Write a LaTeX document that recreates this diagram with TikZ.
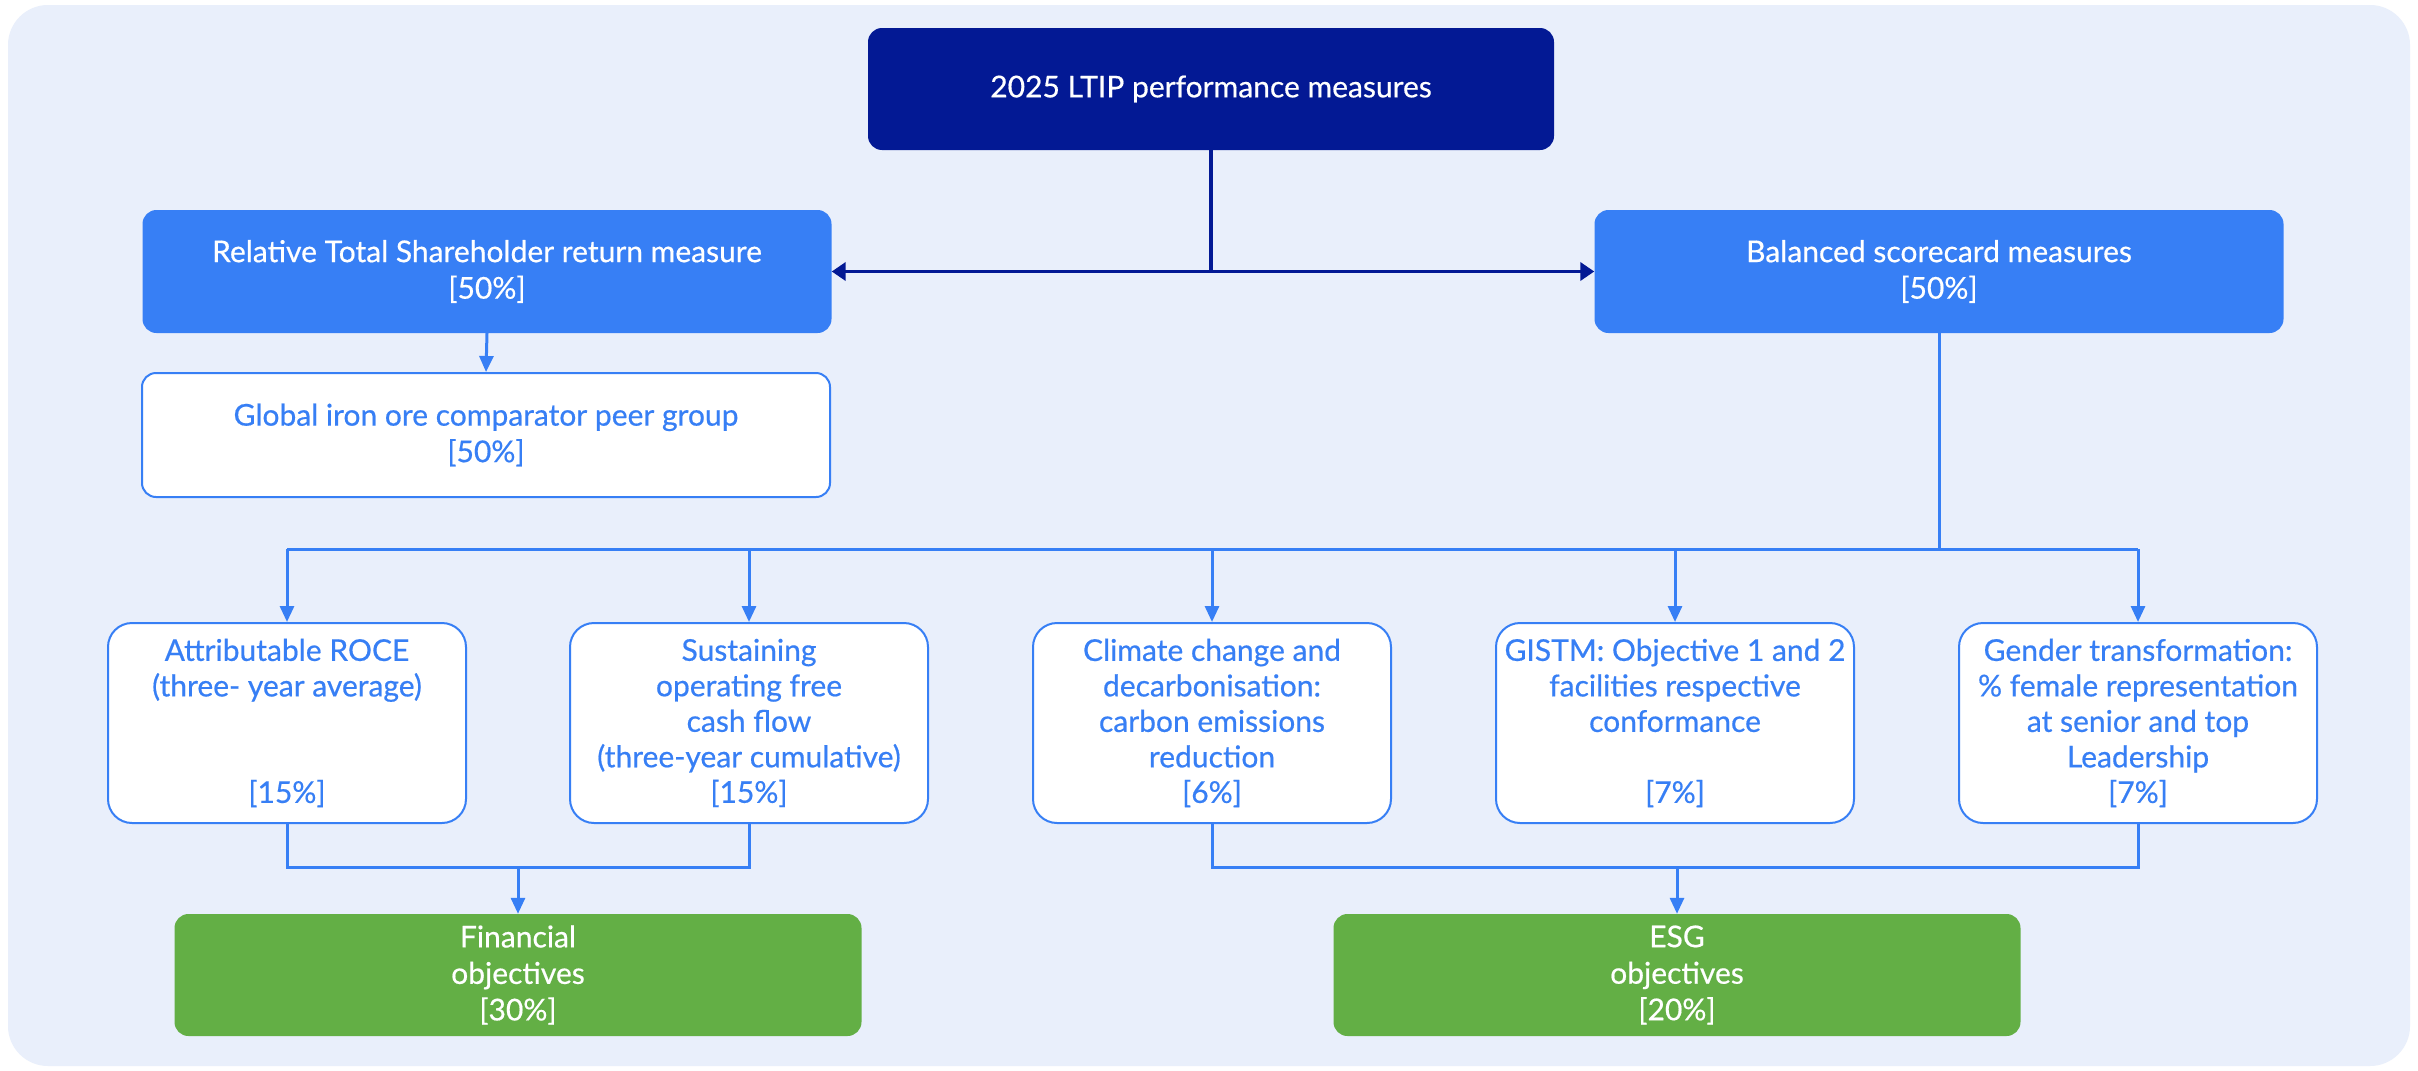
\documentclass[tikz,border=0pt]{standalone}
\usepackage{fontspec}
\setmainfont{Lato}[FakeBold=0.5]
\usetikzlibrary{arrows.meta}
\definecolor{bgc}{HTML}{E9EFFB}
\definecolor{navy}{HTML}{031994}
\definecolor{bblue}{HTML}{377FF5}
\definecolor{ggreen}{HTML}{63AF45}
\tikzset{
  base/.style={rounded corners=14pt, align=center, inner sep=0pt, font=\fontsize{30}{36.5}\selectfont},
  topbox/.style={base, fill=navy, text=white, minimum width=686pt, minimum height=122pt},
  midbox/.style={base, fill=bblue, text=white, minimum width=689pt, minimum height=123pt},
  outbox/.style={base, fill=white, draw=bblue, line width=2pt, text=bblue},
  globbox/.style={outbox, minimum width=688pt, minimum height=124pt},
  kpibox/.style={outbox, minimum width=358pt, minimum height=200pt, rounded corners=24pt, font=\fontsize{30}{35.5}\selectfont},
  objbox/.style={base, fill=ggreen, text=white, minimum width=687pt, minimum height=122pt},
  bline/.style={draw=bblue, line width=3pt},
  barrow/.style={bline, -{Triangle[length=16pt,width=14pt]}},
  nline/.style={draw=navy, line width=3.5pt},
  narrow/.style={nline, {Triangle[length=14pt,width=18pt]}-{Triangle[length=14pt,width=18pt]}}
}
\begin{document}
\begin{tikzpicture}[x=1pt,y=-1pt]
\useasboundingbox (0,0) rectangle (2418,1071);
\fill[white] (0,0) rectangle (2418,1071);
\fill[bgc, rounded corners=40pt] (8,5) rectangle (2410,1066);

\node[topbox] (top) at (1211,89) {2025 LTIP performance measures};
\node[midbox] (tsr) at (487,271.5) {Relative Total Shareholder return measure\\{}[50\%]};
\node[midbox] (bsc) at (1939,271.5) {Balanced scorecard measures\\{}[50\%]};
\node[globbox] (glob) at (486,435) {Global iron ore comparator peer group\\{}[50\%]};

\node[kpibox] (k1) at (287,723) {Attributable ROCE\\(three- year average)\\\mbox{}\\\mbox{}\\{}[15\%]};
\node[kpibox] (k2) at (749,723) {Sustaining\\operating free\\cash flow\\(three-year cumulative)\\{}[15\%]};
\node[kpibox] (k3) at (1212,723) {Climate change and\\decarbonisation:\\carbon emissions\\reduction\\{}[6\%]};
\node[kpibox] (k4) at (1675,723) {GISTM: Objective 1 and 2\\facilities respective\\conformance\\\mbox{}\\{}[7\%]};
\node[kpibox] (k5) at (2138,723) {Gender transformation:\\\% female representation\\at senior and top\\Leadership\\{}[7\%]};

\node[objbox] (fin) at (518,975) {Financial\\objectives\\{}[30\%]};
\node[objbox] (esg) at (1677,975) {ESG\\objectives\\{}[20\%]};

% top connectors
\draw[nline] (top.south) -- (top.south |- tsr.east);
\draw[narrow] (tsr.east) -- (bsc.west);
\draw[barrow] (tsr.south) -- (glob.north);

% balanced scorecard bus
\coordinate (bus) at (1939,549);
\draw[bline] (bsc.south) -- (bus);
\draw[bline] (k1.north |- bus) -- (k5.north |- bus);
\foreach \k in {k1,k2,k3,k4,k5}{
  \draw[barrow] (\k.north |- bus) -- (\k.north);
}

% merges
\coordinate (m1) at (0,867);
\draw[bline] (k1.south) -- (k1.south |- m1) -- (k2.south |- m1) -- (k2.south);
\draw[barrow] (fin.north |- m1) -- (fin.north);
\draw[bline] (k3.south) -- (k3.south |- m1) -- (k5.south |- m1) -- (k5.south);
\draw[barrow] (esg.north |- m1) -- (esg.north);
\end{tikzpicture}
\end{document}
